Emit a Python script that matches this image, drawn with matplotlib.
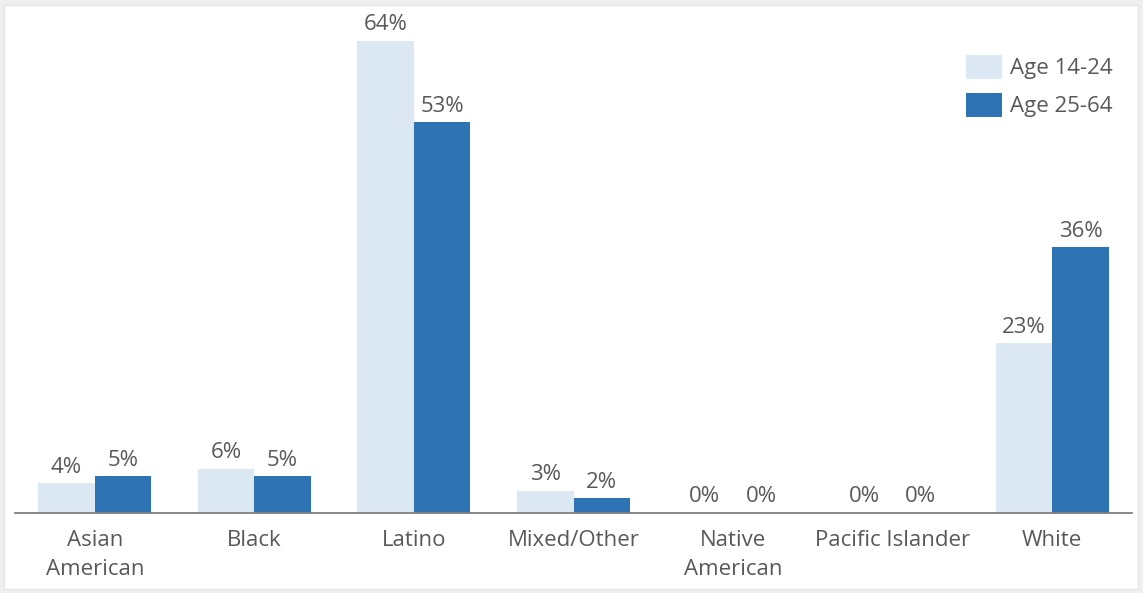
import numpy as np
import matplotlib.pyplot as plt
from matplotlib.patches import Rectangle

plt.rcParams['font.family'] = ['Open Sans', 'DejaVu Sans']

categories = ['Asian\nAmerican', 'Black', 'Latino', 'Mixed/Other',
              'Native\nAmerican', 'Pacific Islander', 'White']
age_14_24 = [4, 6, 64, 3, 0, 0, 23]
age_25_64 = [5, 5, 53, 2, 0, 0, 36]
series_names = ['Age 14-24', 'Age 25-64']

light_blue = '#dde8f5'
dark_blue = '#2e74b5'
text_gray = '#595959'
fs = 16

W, H = 1143, 593
fig = plt.figure(figsize=(W / 100, H / 100), dpi=100)
fig.patch.set_facecolor('#efefef')
# white card inside the light grey frame
fig.patches.append(Rectangle((4 / W, 4 / H), 1 - 9 / W, 1 - 9 / H,
                             transform=fig.transFigure, facecolor='white',
                             edgecolor='#e6e6e6', lw=1, zorder=-5))

ax = fig.add_axes([15 / W, (H - 513) / H, (1132 - 15) / W, (513 - 10) / H])
ax.set_facecolor('none')

x = np.arange(len(categories))
w = 0.354
b1 = ax.bar(x - w / 2, age_14_24, w, color=light_blue, label=series_names[0])
b2 = ax.bar(x + w / 2, age_25_64, w, color=dark_blue, label=series_names[1])

for bars, vals in [(b1, age_14_24), (b2, age_25_64)]:
    for bar, v in zip(bars, vals):
        ax.annotate(f'{v}%', (bar.get_x() + bar.get_width() / 2, v),
                    xytext=(0, 4), textcoords='offset points',
                    ha='center', va='bottom', fontsize=fs, color=text_gray)

ax.set_xlim(-0.5, 6.5)
ax.set_ylim(0, 68.2)
ax.set_xticks(x)
ax.set_xticklabels(categories, fontsize=fs, color=text_gray, linespacing=1.5)
ax.tick_params(axis='x', length=0, pad=12.5)
ax.set_yticks([])
for side in ['left', 'right', 'top']:
    ax.spines[side].set_visible(False)
ax.spines['bottom'].set_color('#7f7f7f')
ax.spines['bottom'].set_linewidth(1.3)

leg = ax.legend(loc='upper right', bbox_to_anchor=(1122 / W, (H - 46) / H),
                bbox_transform=fig.transFigure, frameon=False, fontsize=fs,
                handlelength=1.6, handleheight=1.3, labelspacing=0.6,
                handletextpad=0.4, borderaxespad=0)
for t in leg.get_texts():
    t.set_color(text_gray)

fig.savefig('out.png', dpi=100, facecolor=fig.get_facecolor())
